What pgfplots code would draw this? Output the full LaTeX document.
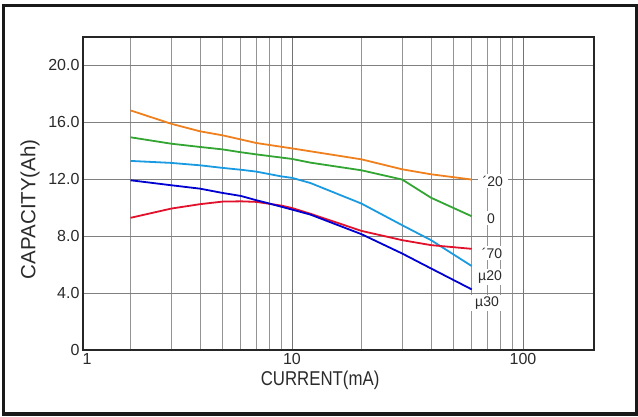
\documentclass[border=0pt]{standalone}
\usepackage{pgfplots}
\pgfplotsset{compat=1.18}
\usepackage{fontspec}
\setmainfont{Liberation Sans}
\definecolor{corange}{HTML}{F0801E}
\definecolor{cgreen}{HTML}{32A532}
\definecolor{clblue}{HTML}{1A9AE0}
\definecolor{cdblue}{HTML}{0000D2}
\definecolor{cred}{HTML}{E2112B}
\definecolor{txt}{HTML}{2A2A2A}
\begin{document}
\begin{tikzpicture}[x=1pt,y=1pt]
\useasboundingbox (-83,-67) rectangle (555,350);
\begin{axis}[
  at={(0,0)}, anchor=south west,
  scale only axis, width=511pt, height=313pt,
  xmode=log, xmin=1.245, xmax=203, ymin=0, ymax=22,
  xtick={10,100}, xticklabels={10,100},
  extra x ticks={1.296}, extra x tick labels={1},
  extra x tick style={grid=none},
  minor xtick={2,3,4,5,6,7,8,9,20,30,40,50,60,70,80,90},
  ytick={0,4,8,12,16,20}, yticklabels={0,4.0,8.0,12.0,16.0,20.0},
  xmajorgrids, xminorgrids, ymajorgrids,
  major tick length=0pt, minor tick length=0pt,
  major x grid style={draw=black!55, line width=0.9pt},
  minor x grid style={draw=black!42, line width=0.9pt},
  major y grid style={draw=black!50, line width=0.9pt},
  axis line style={draw=black!85, line width=1.3pt},
  tick label style={font=\fontsize{16}{18}\selectfont, text=txt},
  xticklabel style={yshift=0pt},
  xlabel={CURRENT(mA)}, ylabel={CAPACITY(Ah)},
  label style={text=txt},
  xlabel style={font=\fontsize{20}{22}\selectfont, xscale=0.84, at={(axis description cs:0.464,-0.097)}, anchor=center},
  ylabel style={font=\fontsize{20.5}{22}\selectfont, at={(axis description cs:-0.1037,0.45)}, anchor=center, rotate=0},
  every axis plot/.append style={line width=1.8pt, no marks},
  clip=false,
]
\addplot[corange] coordinates {(2,16.84)(3,15.9)(4,15.37)(5,15.09)(6,14.8)(7,14.55)(10,14.17)(20,13.4)(30,12.7)(40,12.35)(60,11.98)};
\addplot[cgreen] coordinates {(2,14.95)(3,14.5)(4,14.27)(5,14.1)(6,13.9)(7,13.75)(10,13.43)(12,13.17)(20,12.63)(30,11.98)(40,10.7)(60,9.4)};
\addplot[clblue] coordinates {(2,13.29)(3,13.15)(4,12.98)(5,12.8)(6,12.67)(7,12.54)(9,12.2)(10,12.1)(12,11.74)(20,10.29)(30,8.77)(40,7.72)(60,5.9)};
\addplot[cred] coordinates {(2,9.29)(3,9.94)(4,10.25)(5,10.43)(6,10.45)(7,10.41)(9,10.15)(10,9.98)(12,9.58)(20,8.37)(30,7.72)(40,7.37)(60,7.11)};
\addplot[cdblue] coordinates {(2,11.93)(3,11.58)(4,11.34)(5,11.04)(6,10.83)(7,10.53)(8,10.29)(10,9.87)(12,9.52)(20,8.14)(30,6.78)(40,5.73)(60,4.26)};
\begin{scope}[every node/.style={fill=white, inner xsep=5pt, inner ysep=2pt, text=txt, font=\fontsize{14}{16}\selectfont}]
\node at (axis cs:74,11.86) {´20};
\node at (axis cs:72.7,9.26) {0};
\node at (axis cs:73.5,6.81) {´70};
\node at (axis cs:72,5.12) {µ20};
\node at (axis cs:69.9,3.30) {µ30};
\end{scope}
\end{axis}
\draw[line width=3.5pt, draw=black!90] (-79.5,-64) rectangle (553.5,344.5);
\end{tikzpicture}
\end{document}
